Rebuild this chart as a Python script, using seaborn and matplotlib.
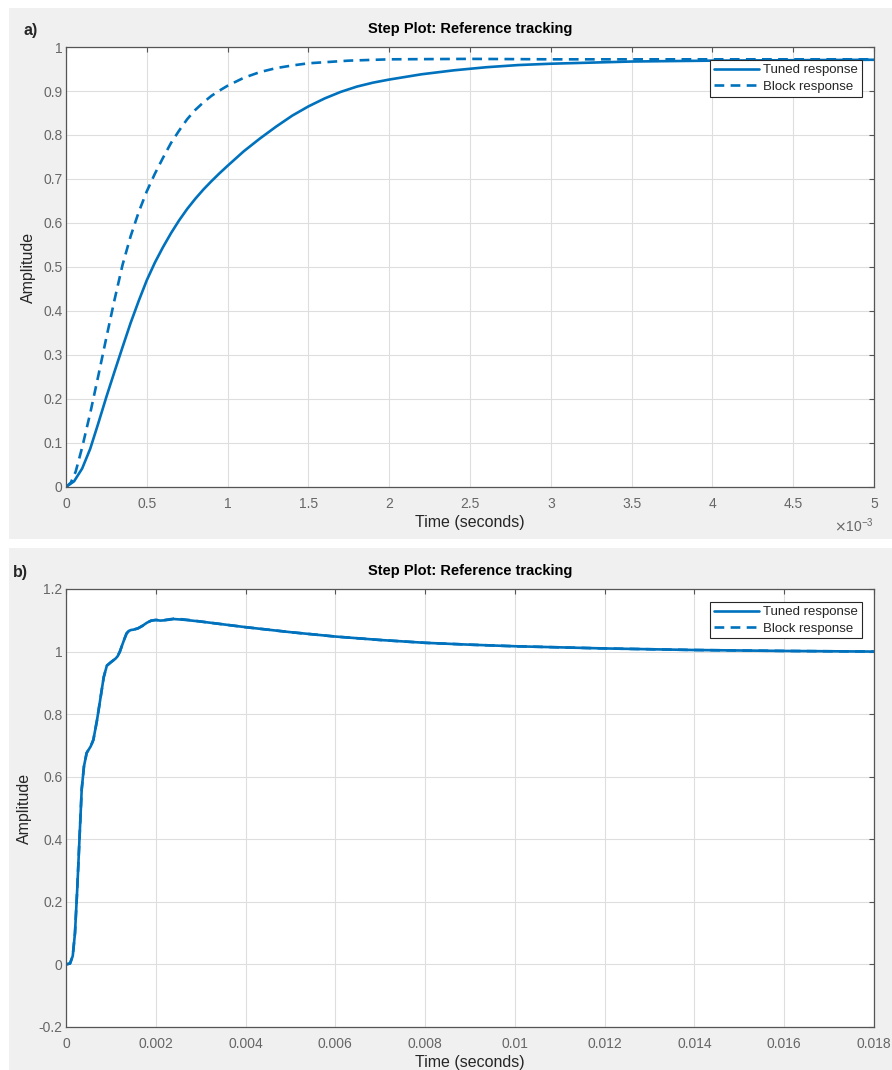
import matplotlib
matplotlib.use("Agg")
import matplotlib.pyplot as plt
import matplotlib.patches as mpatches
from matplotlib.ticker import FuncFormatter
import seaborn as sns

# panel a: time in ms (axis shows x10^-3 s)
time_a_tuned = [0, 0.05, 0.1, 0.15, 0.2, 0.25, 0.3, 0.35, 0.4, 0.45, 0.5, 0.55,
                0.6, 0.65, 0.7, 0.75, 0.8, 0.85, 0.9, 0.95, 1.0, 1.1, 1.2, 1.3,
                1.4, 1.5, 1.6, 1.7, 1.8, 1.9, 2.0, 2.2, 2.4, 2.6, 2.8, 3.0, 3.5,
                4.0, 4.5, 5.0]
amp_a_tuned = [0, 0.013, 0.042, 0.087, 0.145, 0.205, 0.262, 0.318, 0.373, 0.423,
               0.47, 0.51, 0.545, 0.577, 0.606, 0.632, 0.655, 0.676, 0.695, 0.713,
               0.73, 0.763, 0.792, 0.819, 0.844, 0.865, 0.883, 0.898, 0.910, 0.919,
               0.926, 0.938, 0.947, 0.954, 0.959, 0.962, 0.967, 0.969, 0.970, 0.971]

time_a_block = [0, 0.03, 0.06, 0.1, 0.15, 0.2, 0.25, 0.3, 0.35, 0.4, 0.45, 0.5,
                0.55, 0.6, 0.65, 0.7, 0.75, 0.8, 0.85, 0.9, 0.95, 1.0, 1.1, 1.2,
                1.3, 1.4, 1.5, 1.75, 2.0, 2.5, 3.0, 4.0, 5.0]
amp_a_block = [0, 0.01, 0.035, 0.09, 0.168, 0.253, 0.34, 0.425, 0.505, 0.57,
               0.625, 0.672, 0.712, 0.748, 0.782, 0.81, 0.836, 0.857, 0.874, 0.889,
               0.901, 0.912, 0.93, 0.943, 0.952, 0.958, 0.963, 0.969, 0.972, 0.973,
               0.972, 0.972, 0.972]

# panel b: time in seconds
time_b = [0, 0.00009, 0.00015, 0.0002, 0.00025, 0.0003, 0.00035, 0.0004, 0.00046,
          0.00055, 0.00061, 0.00069, 0.00076, 0.00084, 0.00091, 0.001, 0.0011,
          0.00115, 0.0012, 0.00125, 0.0013, 0.00135, 0.0014, 0.00145, 0.0015,
          0.0016, 0.0017, 0.0018, 0.0019, 0.002, 0.0021, 0.0022, 0.0024, 0.0026,
          0.0028, 0.003, 0.0035, 0.004, 0.005, 0.006, 0.007, 0.008, 0.009, 0.01,
          0.012, 0.014, 0.016, 0.018]
amp_b_tuned = [0, 0.003, 0.027, 0.10, 0.24, 0.40, 0.56, 0.633, 0.676,
               0.697, 0.718, 0.78, 0.844, 0.918, 0.955, 0.966, 0.977,
               0.985, 1.0, 1.02, 1.04, 1.058, 1.066, 1.069, 1.07,
               1.074, 1.082, 1.092, 1.099, 1.101, 1.099, 1.1, 1.104, 1.102,
               1.099, 1.096, 1.087, 1.078, 1.062, 1.048, 1.037, 1.028, 1.022, 1.017,
               1.010, 1.005, 1.002, 1.0]
amp_b_block = [0, 0.003, 0.027, 0.10, 0.24, 0.40, 0.56, 0.633, 0.676,
               0.697, 0.718, 0.78, 0.844, 0.918, 0.955, 0.966, 0.977,
               0.985, 1.0, 1.02, 1.04, 1.058, 1.066, 1.069, 1.07,
               1.074, 1.082, 1.092, 1.099, 1.101, 1.1, 1.101, 1.105, 1.103,
               1.1, 1.096, 1.087, 1.078, 1.062, 1.048, 1.037, 1.028, 1.022, 1.017,
               1.010, 1.005, 1.002, 1.0]

series_labels = ["Tuned response", "Block response"]
title = "Step Plot: Reference tracking"

sns.set_style("white")
plt.rcParams["font.family"] = ["Liberation Sans", "DejaVu Sans"]

LINE = "#0072BD"
TICK = "#666666"
LAB = "#262626"
dash = (0, (3.7, 2.4))

W, H = 892, 1070
fig = plt.figure(figsize=(W / 100, H / 100), dpi=100, facecolor="white")

# grey panel backgrounds
for (x0, y0, x1, y1) in [(9, 8, 892, 539), (9, 548, 892, 1070)]:
    fig.patches.append(mpatches.Rectangle((x0 / W, 1 - y1 / H), (x1 - x0) / W, (y1 - y0) / H,
                                          transform=fig.transFigure, facecolor="#f0f0f0",
                                          edgecolor="none", zorder=-5))

ax_a = fig.add_axes([66 / W, 1 - 487 / H, 808 / W, 440 / H])
ax_b = fig.add_axes([66 / W, 1 - 1027 / H, 808 / W, 438 / H])

sns.lineplot(x=time_a_tuned, y=amp_a_tuned, ax=ax_a, color=LINE, linewidth=1.9,
             label=series_labels[0])
sns.lineplot(x=time_a_block, y=amp_a_block, ax=ax_a, color=LINE, linewidth=1.9,
             linestyle=dash, label=series_labels[1])
sns.lineplot(x=time_b, y=amp_b_tuned, ax=ax_b, color=LINE, linewidth=1.9,
             label=series_labels[0])
sns.lineplot(x=time_b, y=amp_b_block, ax=ax_b, color=LINE, linewidth=1.9,
             linestyle=dash, label=series_labels[1])

ax_a.set_xlim(0, 5)
ax_a.set_ylim(0, 1)
ax_a.set_xticks([i * 0.5 for i in range(11)])
ax_a.set_yticks([i * 0.1 for i in range(11)])

ax_b.set_xlim(0, 0.018)
ax_b.set_ylim(-0.2, 1.2)
ax_b.set_xticks([i * 0.002 for i in range(10)])
ax_b.set_yticks([-0.2 + i * 0.2 for i in range(8)])

fmt = FuncFormatter(lambda v, p: "%g" % round(v, 6))
for ax in (ax_a, ax_b):
    ax.set_facecolor("white")
    ax.xaxis.set_major_formatter(fmt)
    ax.yaxis.set_major_formatter(fmt)
    ax.grid(True, color="#dedede", linewidth=0.8)
    ax.set_axisbelow(True)
    for s in ax.spines.values():
        s.set_color("#555555")
        s.set_linewidth(0.9)
    ax.tick_params(axis="both", which="major", direction="in", top=True, right=True,
                   length=3.5, width=0.8, color="#555555", labelcolor=TICK, labelsize=10)
    ax.tick_params(axis="x", pad=7)
    ax.tick_params(axis="y", pad=2.5)
    ax.set_xlabel("Time (seconds)", fontsize=11.5, color=LAB, labelpad=3)
    ax.set_ylabel("Amplitude", fontsize=11.5, color=LAB, labelpad=5)
    ax.set_title(title, fontsize=10.5, fontweight="bold", color="black", pad=10)
    leg = ax.legend(loc="upper right", bbox_to_anchor=(0.985, 0.970), borderaxespad=0,
                    fancybox=False, framealpha=1, edgecolor="#262626", fontsize=9.5,
                    handlelength=3.4, handletextpad=0.3, labelspacing=0.3,
                    borderpad=0.3)
    leg.get_frame().set_linewidth(0.8)

ax_a.text(1.0, -0.089, r"$\times\mathregular{10^{-3}}$", transform=ax_a.transAxes,
          ha="right", va="center", fontsize=10, color=TICK)

fig.text(23 / W, 1 - 30 / H, "a)", fontsize=11.5, fontweight="bold", va="center")
fig.text(13 / W, 1 - 573 / H, "b)", fontsize=11.5, fontweight="bold", va="center")

fig.savefig("out.png", dpi=100, facecolor="white")
